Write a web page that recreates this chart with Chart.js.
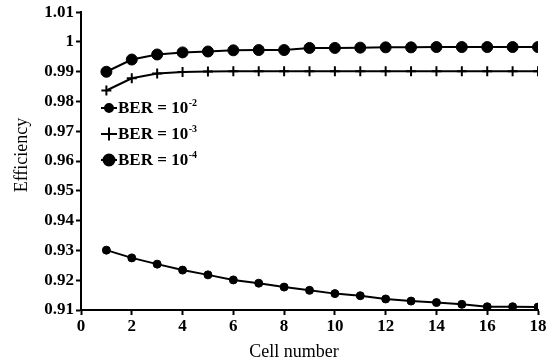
<!DOCTYPE html>
<html>
<head>
<meta charset="utf-8">
<script src="https://cdn.jsdelivr.net/npm/chart.js@4"></script>
<style>
  html, body { margin: 0; padding: 0; background: #fff; }
  #wrap { width: 555px; height: 364px; }
</style>
</head>
<body>
<div id="wrap"><canvas id="chart"></canvas></div>
<script>
/*******************
 * DATA
 ******************/
const cells = [1, 2, 3, 4, 5, 6, 7, 8, 9, 10, 11, 12, 13, 14, 15, 16, 17, 18];
const ber2 = [0.9301, 0.9275, 0.9254, 0.9234, 0.9218, 0.9201, 0.9190, 0.9177, 0.9166,
              0.9155, 0.9148, 0.9137, 0.9130, 0.9125, 0.9119, 0.9111, 0.9111, 0.9110];
const ber3 = [0.9837, 0.9878, 0.9894, 0.9899, 0.9901, 0.9902, 0.9902, 0.9902, 0.9902,
              0.9902, 0.9902, 0.9902, 0.9902, 0.9902, 0.9902, 0.9902, 0.9902, 0.9902];
const ber4 = [0.9900, 0.9941, 0.9958, 0.9965, 0.9968, 0.9972, 0.9973, 0.9973, 0.9980,
              0.9980, 0.9981, 0.9982, 0.9982, 0.9983, 0.9983, 0.9983, 0.9983, 0.9983];
const legendLabels = [['BER = 10', '-2'], ['BER = 10', '-3'], ['BER = 10', '-4']];
const xTitle = 'Cell number';
const yTitle = 'Efficiency';

const toPoints = (ys) => ys.map((y, i) => ({ x: cells[i], y: y }));
const serif = '"Liberation Serif", "Times New Roman", serif';

/*******************
 * IN-PLOT LEGEND WITH SUPERSCRIPTS + AXIS TITLES
 ******************/
const berLegend = {
    id: 'berLegend',
    afterDraw(chart) {
        const ctx = chart.ctx;
        const rows = [108, 134, 160];
        const styles = [
            { style: 'circle', r: 4 },
            { style: 'cross', r: 6.5 },
            { style: 'circle', r: 5.5 },
        ];
        ctx.save();
        for (let i = 0; i < rows.length; i++) {
            const y = rows[i];
            ctx.strokeStyle = '#000';
            ctx.fillStyle = '#000';
            ctx.lineWidth = 2;
            ctx.beginPath();
            ctx.moveTo(101, y);
            ctx.lineTo(117, y);
            ctx.stroke();
            Chart.helpers.drawPoint(ctx, {
                pointStyle: styles[i].style,
                radius: styles[i].r,
                borderWidth: 2,
                rotation: 0,
            }, 109, y);
            if (styles[i].style === 'circle') ctx.fill();

            ctx.font = 'bold 17px ' + serif;
            ctx.textBaseline = 'middle';
            ctx.textAlign = 'left';
            ctx.fillText(legendLabels[i][0], 118, y + 1);
            const w = ctx.measureText(legendLabels[i][0]).width;
            ctx.font = 'bold 10px ' + serif;
            ctx.fillText(legendLabels[i][1], 118 + w + 0.5, y - 5);
        }

        // Axis titles (placed where the original has them, slightly off-centre)
        ctx.font = '18px ' + serif;
        ctx.textAlign = 'center';
        ctx.textBaseline = 'middle';
        ctx.fillText(xTitle, 294, 352);
        ctx.translate(22, 155);
        ctx.rotate(-Math.PI / 2);
        ctx.fillText(yTitle, 0, 0);
        ctx.restore();
    }
};

/*******************
 * CHART
 ******************/
const seriesStyle = {
    borderColor: '#000',
    backgroundColor: '#000',
    pointBorderColor: '#000',
    pointBackgroundColor: '#000',
    borderWidth: 2,
    pointBorderWidth: 1,
    tension: 0,
    showLine: true,
};

new Chart(document.getElementById('chart'), {
    type: 'scatter',
    data: {
        datasets: [
            Object.assign({}, seriesStyle, { label: 'BER = 10^-2', data: toPoints(ber2), pointStyle: 'circle', pointRadius: 4 }),
            Object.assign({}, seriesStyle, { label: 'BER = 10^-3', data: toPoints(ber3), pointStyle: 'cross', pointRadius: 5, pointBorderWidth: 2 }),
            Object.assign({}, seriesStyle, { label: 'BER = 10^-4', data: toPoints(ber4), pointStyle: 'circle', pointRadius: 5.5 }),
        ]
    },
    options: {
        responsive: true,
        maintainAspectRatio: false,
        animation: false,
        layout: { padding: { left: 0, right: 17, top: 12, bottom: 0 } },
        plugins: {
            legend: { display: false },
            tooltip: { enabled: false },
        },
        scales: {
            x: {
                type: 'linear',
                min: 0,
                max: 18,
                border: { display: true, color: '#000', width: 2 },
                grid: { drawOnChartArea: false, drawTicks: true, tickLength: 5, tickColor: '#000', tickWidth: 2 },
                ticks: { stepSize: 2, color: '#000', padding: 1, font: { family: serif, size: 17, weight: 'bold' } },
                afterFit(scale) { scale.height = 54; },
            },
            y: {
                min: 0.91,
                max: 1.01,
                border: { display: true, color: '#000', width: 2 },
                grid: { drawOnChartArea: false, drawTicks: true, tickLength: 5, tickColor: '#000', tickWidth: 2 },
                ticks: {
                    stepSize: 0.01,
                    color: '#000',
                    padding: 2,
                    font: { family: serif, size: 17, weight: 'bold' },
                    callback: (v) => String(+v.toFixed(2)),
                },
                afterFit(scale) { scale.width = 81; },
            }
        }
    },
    plugins: [berLegend],
});
</script>
</body>
</html>
